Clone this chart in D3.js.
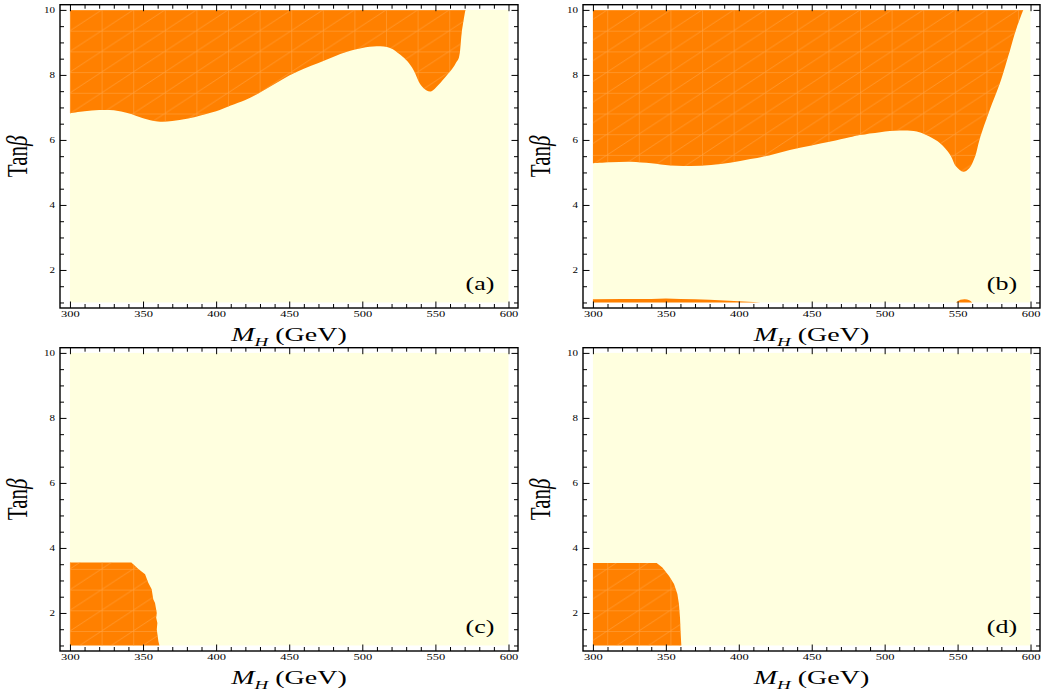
<!DOCTYPE html>
<html>
<head>
<meta charset="utf-8">
<script src="https://cdn.jsdelivr.net/npm/d3@7"></script>
<style>
  body { margin: 0; background: #fff; }
  svg text { font-family: "Liberation Serif", "Times New Roman", serif; fill: #000; }
</style>
</head>
<body>
<div id="chart"></div>
<script>
// boundary of the orange region, [M_H, tanβ]
const curveA = [[300,6.82],[310,6.88],[320,6.92],[330,6.91],[340,6.82],[350,6.67],[360,6.57],[370,6.58],
  [380,6.65],[390,6.76],[400,6.88],[410,7.06],[420,7.23],[430,7.46],[440,7.72],[450,7.98],[460,8.19],
  [470,8.37],[480,8.55],[490,8.72],[500,8.83],[510,8.88],[519,8.83],[526,8.62],[531,8.41],[535,8.15],
  [540,7.69],[544,7.52],[547,7.49],[552,7.69],[558,8.0],[562,8.22],[564,8.37],[566,8.52],[568,9.29],[570.5,10]];

const curveB = [[300,5.28],[312,5.31],[326,5.33],[340,5.28],[353,5.21],[367,5.2],[381,5.23],[394,5.3],
  [408,5.41],[422,5.54],[435,5.69],[449,5.82],[463,5.95],[476,6.08],[483,6.15],[497,6.24],[510,6.29],
  [522,6.26],[531,6.1],[538,5.9],[545,5.54],[549,5.18],[554,5.02],[558,5.13],[562,5.49],[565,6.0],
  [572,6.92],[579,7.74],[586,8.77],[590,9.38],[595,10]];

// thin slivers near tanβ = 1 in panel (b)
const stripB1 = [[300,1],[300,1.1],[320,1.11],[340,1.11],[350,1.12],[360,1.11],[370,1.1],[380,1.08],
  [390,1.06],[400,1.04],[410,1.015],[415,1]];
const stripB2 = [[549,1],[552,1.08],[555,1.1],[558,1.07],[560,1]];

const regionC = [[300,1],[300,3.55],[342,3.55],[346.8,3.35],[351.4,3.19],[353.6,2.93],[355.9,2.73],
  [357,2.42],[358.2,2.31],[359.4,2.0],[359,1.85],[359.8,1.69],[359.4,1.49],[360.5,1.13],[361.2,1]];
const regionD = [[300,1],[300,3.54],[343.7,3.54],[347.6,3.4],[352.2,3.14],[355.6,2.89],[357.9,2.58],
  [359,2.27],[359.7,1.85],[360.1,1.44],[360.6,1]];

const panelLabels = ["(a)", "(b)", "(c)", "(d)"];
const xTicks = [300, 350, 400, 450, 500, 550, 600];
const yTicks = [2, 4, 6, 8, 10];
const xMinor = d3.range(310, 600, 10).filter(v => v % 50 !== 0);
const yMinor = [1, 1.5, 2.5, 3, 3.5, 4.5, 5, 5.5, 6.5, 7, 7.5, 8.5, 9, 9.5];

const W = 1041, H = 692;
const ORANGE = "#ff8000", CREAM = "#ffffdf";

const frames = [
  {x0: 60,  x1: 518,  y0: 4.7,   y1: 308},
  {x0: 583, x1: 1040, y0: 4.7,   y1: 308},
  {x0: 60,  x1: 518,  y0: 347.7, y1: 651},
  {x0: 583, x1: 1040, y0: 347.7, y1: 651}
];

const svg = d3.select("#chart").append("svg")
  .attr("width", W).attr("height", H);

// faint mesh lines like the triangulation of the region plot
const defs = svg.append("defs");
const pat = defs.append("pattern")
  .attr("id", "mesh")
  .attr("patternUnits", "userSpaceOnUse")
  .attr("x", 70).attr("y", 10)
  .attr("width", 31.6).attr("height", 20.7);
pat.append("path")
  .attr("d", "M0.4,0V20.7M0,0.4H31.6M0,20.7L31.6,0")
  .attr("stroke", "#ffa446")
  .attr("stroke-opacity", 0.75)
  .attr("stroke-width", 0.8)
  .attr("fill", "none");

const regionsFor = [
  [{pts: curveA, smooth: true, closeTop: true}],
  [{pts: curveB, smooth: true, closeTop: true}, {pts: stripB1}, {pts: stripB2, smooth: true}],
  [{pts: regionC}],
  [{pts: regionD}]
];

frames.forEach((f, i) => {
  const x = d3.scaleLinear().domain([293.2, 606.5]).range([f.x0, f.x1]);
  const y = d3.scaleLinear().domain([0.83, 10.16]).range([f.y1, f.y0]);
  const g = svg.append("g");

  g.append("rect")
    .attr("x", x(300)).attr("y", y(10))
    .attr("width", x(600) - x(300)).attr("height", y(1) - y(10))
    .attr("fill", CREAM);

  regionsFor[i].forEach((r, k) => {
    const line = d3.line().x(d => x(d[0])).y(d => y(d[1]))
      .curve(r.smooth ? d3.curveCatmullRom : d3.curveLinear);
    let d = line(r.pts);
    if (r.closeTop) d += `L${x(300)},${y(10)}`;
    d += "Z";
    g.append("path").attr("d", d).attr("fill", ORANGE);
    if (r.pts.length > 6 && !(i === 1 && k > 0))
      g.append("path").attr("d", d).attr("fill", "url(#mesh)");
  });

  // axes: ticks point inward on all four sides
  const bottom = g.append("g").attr("transform", `translate(0,${f.y1})`)
    .call(d3.axisBottom(x).tickValues(xTicks).tickSizeInner(-6.5).tickSizeOuter(0).tickPadding(0));
  bottom.selectAll("text")
    .attr("dy", null).attr("y", 9.5 / 0.62)
    .attr("transform", "scale(1,0.62)")
    .style("font-size", "12.5px").attr("font-family", null);
  g.append("g").attr("transform", `translate(0,${f.y1})`)
    .call(d3.axisBottom(x).tickValues(xMinor).tickSizeInner(-4).tickSizeOuter(0).tickFormat(""));

  g.append("g").attr("transform", `translate(0,${f.y0})`)
    .call(d3.axisTop(x).tickValues(xTicks).tickSizeInner(-6.5).tickSizeOuter(0).tickFormat(""));
  g.append("g").attr("transform", `translate(0,${f.y0})`)
    .call(d3.axisTop(x).tickValues(xMinor).tickSizeInner(-4).tickSizeOuter(0).tickFormat(""));

  const left = g.append("g").attr("transform", `translate(${f.x0},0)`)
    .call(d3.axisLeft(y).tickValues(yTicks).tickSizeInner(-6.5).tickSizeOuter(0).tickPadding(0));
  left.selectAll("text")
    .attr("dy", null).attr("x", -5).attr("y", 2.6 / 0.72)
    .attr("transform", "scale(1,0.72)")
    .style("font-size", "11px").attr("font-family", null);
  g.append("g").attr("transform", `translate(${f.x0},0)`)
    .call(d3.axisLeft(y).tickValues(yMinor).tickSizeInner(-4).tickSizeOuter(0).tickFormat(""));

  g.append("g").attr("transform", `translate(${f.x1},0)`)
    .call(d3.axisRight(y).tickValues(yTicks).tickSizeInner(-6.5).tickSizeOuter(0).tickFormat(""));
  g.append("g").attr("transform", `translate(${f.x1},0)`)
    .call(d3.axisRight(y).tickValues(yMinor).tickSizeInner(-4).tickSizeOuter(0).tickFormat(""));

  g.selectAll(".domain").remove();
  g.selectAll(".tick line").attr("stroke", "#000").attr("stroke-width", 1);

  g.append("rect")
    .attr("x", f.x0).attr("y", f.y0)
    .attr("width", f.x1 - f.x0).attr("height", f.y1 - f.y0)
    .attr("fill", "none").attr("stroke", "#000").attr("stroke-width", 1.4);

  // x title
  const cx = (f.x0 + f.x1) / 2;
  const t = g.append("text")
    .attr("transform", `translate(${cx},${f.y1 + 33}) scale(1,0.7)`)
    .attr("text-anchor", "middle")
    .style("font-size", "28px");
  t.append("tspan").attr("font-style", "italic").text("M");
  t.append("tspan").attr("font-style", "italic").attr("dy", 7).style("font-size", "19px").text("H");
  t.append("tspan").attr("dy", -7).text(" (GeV)");

  // y title
  const yt = g.append("text")
    .attr("transform", `translate(${f.x0 - 33},${(f.y0 + f.y1) / 2}) rotate(-90) scale(0.7,1)`)
    .attr("text-anchor", "middle")
    .style("font-size", "30px");
  yt.append("tspan").text("Tan");
  yt.append("tspan").attr("font-style", "italic").text("β");

  // panel tag
  g.append("text")
    .attr("transform", `translate(${f.x1 - 38},${f.y1 - 18}) scale(1,0.7)`)
    .attr("text-anchor", "middle")
    .style("font-size", "26px")
    .text(panelLabels[i]);
});
</script>
</body>
</html>
